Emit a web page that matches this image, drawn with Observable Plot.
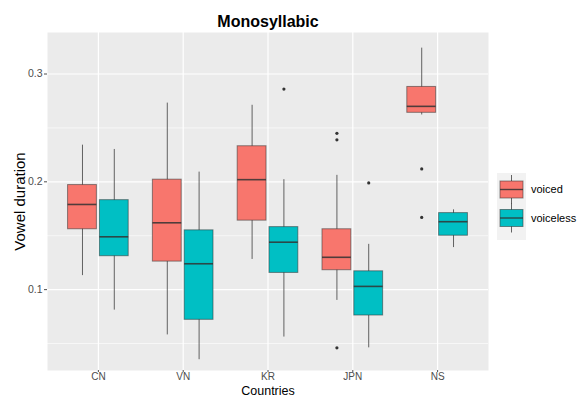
<!DOCTYPE html>
<html>
<head>
<meta charset="utf-8">
<script src="https://cdn.jsdelivr.net/npm/d3@7"></script>
<script src="https://cdn.jsdelivr.net/npm/@observablehq/plot@0.6"></script>
<style>
  html, body { margin: 0; padding: 0; background: #fff; }
  #wrap { position: relative; width: 581px; height: 398px; font-family: "Liberation Sans", Arial, sans-serif; }
  #legend { position: absolute; left: 490px; top: 160px; }
</style>
</head>
<body>
<div id="wrap"><div id="chart"></div><div id="legend"></div></div>
<script>
const countries = ["CN", "VN", "KR", "JPN", "NS"];
const groups = ["voiced", "voiceless"];
const groupColors = ["#F8766D", "#00BFC4"];

const voicedLow  = [0.113, 0.058, 0.128, 0.090, 0.262];
const voicedQ1   = [0.156, 0.126, 0.164, 0.118, 0.264];
const voicedMed  = [0.179, 0.162, 0.202, 0.130, 0.270];
const voicedQ3   = [0.197, 0.202, 0.233, 0.156, 0.288];
const voicedHigh = [0.234, 0.273, 0.271, 0.206, 0.324];

const voicelessLow  = [0.081, 0.035, 0.056, 0.046, 0.139];
const voicelessQ1   = [0.131, 0.072, 0.1155, 0.076, 0.150];
const voicelessMed  = [0.149, 0.124, 0.144, 0.103, 0.163];
const voicelessQ3   = [0.183, 0.155, 0.158, 0.117, 0.171];
const voicelessHigh = [0.230, 0.209, 0.202, 0.142, 0.174];

const outlierCountry = ["KR", "JPN", "JPN", "JPN", "JPN", "NS", "NS"];
const outlierGroup   = ["voiceless", "voiced", "voiced", "voiced", "voiceless", "voiced", "voiced"];
const outlierValue   = [0.286, 0.245, 0.239, 0.046, 0.199, 0.212, 0.167];

const yTicks = [0.1, 0.2, 0.3];
const yMinor = [0.05, 0.15, 0.25];

// dodge layout (in category units)
const dodge = 0.1875, half = 0.17;
const groupOffset = g => (groups.indexOf(g) - 0.5) * 2 * dodge;

const stats = {
  voiced: [voicedLow, voicedQ1, voicedMed, voicedQ3, voicedHigh],
  voiceless: [voicelessLow, voicelessQ1, voicelessMed, voicelessQ3, voicelessHigh]
};
const rows = [];
groups.forEach(g => countries.forEach((c, i) => {
  const [lo, q1, md, q3, hi] = stats[g].map(a => a[i]);
  const pos = i + groupOffset(g);
  rows.push({country: c, group: g, pos, x1: pos - half, x2: pos + half, lo, q1, md, q3, hi});
}));
const outliers = outlierValue.map((v, k) => ({
  pos: countries.indexOf(outlierCountry[k]) + groupOffset(outlierGroup[k]),
  value: v
}));

const chart = Plot.plot({
  width: 581,
  height: 398,
  marginLeft: 47,
  marginRight: 93,
  marginTop: 32,
  marginBottom: 28,
  style: {fontFamily: "Liberation Sans, Arial, sans-serif", background: "#fff"},
  x: {type: "linear", domain: [-0.6, 4.6]},
  y: {domain: [0.025, 0.3385]},
  color: {domain: groups, range: groupColors},
  marks: [
    Plot.frame({fill: "#EBEBEB", stroke: "none"}),
    Plot.gridY(yMinor, {stroke: "#fff", strokeOpacity: 1, strokeWidth: 0.6}),
    Plot.gridY(yTicks, {stroke: "#fff", strokeOpacity: 1, strokeWidth: 1.2}),
    Plot.gridX(countries.map((_, i) => i), {stroke: "#fff", strokeOpacity: 1, strokeWidth: 1.2}),
    Plot.ruleX(rows, {x: "pos", y1: "lo", y2: "hi", stroke: "#333", strokeOpacity: 0.75, strokeWidth: 1}),
    Plot.rect(rows, {x1: "x1", x2: "x2", y1: "q1", y2: "q3", fill: "group", stroke: "#333", strokeOpacity: 0.55, strokeWidth: 1}),
    Plot.ruleY(rows, {y: "md", x1: "x1", x2: "x2", stroke: "#333", strokeOpacity: 0.85, strokeWidth: 1.6}),
    Plot.dot(outliers, {x: "pos", y: "value", r: 1.6, fill: "#333", stroke: "none"}),
    Plot.axisY({ticks: yTicks, tickFormat: d => d.toFixed(1), tickSize: 3, tickPadding: 2, fontSize: 10.5, color: "#4D4D4D", label: null}),
    Plot.axisX({ticks: countries.map((_, i) => i), tickFormat: i => countries[i], tickSize: 2, tickPadding: 0, fontSize: 10, color: "#4D4D4D", label: null}),
    Plot.text(["Countries"], {frameAnchor: "bottom", lineAnchor: "bottom", dy: 24.5, fontSize: 12.5, fill: "#000"}),
    Plot.text(["Vowel duration"], {frameAnchor: "left", textAnchor: "middle", lineAnchor: "middle", dx: -27, rotate: -90, fontSize: 15, fill: "#000"}),
    Plot.text(["Monosyllabic"], {frameAnchor: "top", lineAnchor: "middle", dy: -11, fontSize: 16, fontWeight: "bold", fill: "#000"})
  ]
});
document.getElementById("chart").appendChild(chart);

// legend
const lg = d3.select("#legend").append("svg").attr("width", 91).attr("height", 90)
  .style("font-family", "Liberation Sans, Arial, sans-serif");
lg.append("rect").attr("x", 7).attr("y", 13).attr("width", 29).attr("height", 67).attr("fill", "#F2F2F2");
groups.forEach((g, k) => {
  const top = 21 + k * 28.5;
  const gEl = lg.append("g");
  gEl.append("line").attr("x1", 21.5).attr("x2", 21.5).attr("y1", top - 6).attr("y2", top + 23)
    .attr("stroke", "#333").attr("stroke-opacity", 0.75);
  gEl.append("rect").attr("x", 10).attr("y", top).attr("width", 23).attr("height", 17)
    .attr("fill", groupColors[k]).attr("stroke", "#333").attr("stroke-opacity", 0.55);
  gEl.append("line").attr("x1", 10).attr("x2", 33).attr("y1", top + 8.5).attr("y2", top + 8.5)
    .attr("stroke", "#333").attr("stroke-opacity", 0.85).attr("stroke-width", 1.4);
  gEl.append("text").attr("x", 41).attr("y", top + 8.5).attr("dy", "0.35em")
    .attr("font-size", 11).attr("fill", "#000").text(g);
});
</script>
</body>
</html>
